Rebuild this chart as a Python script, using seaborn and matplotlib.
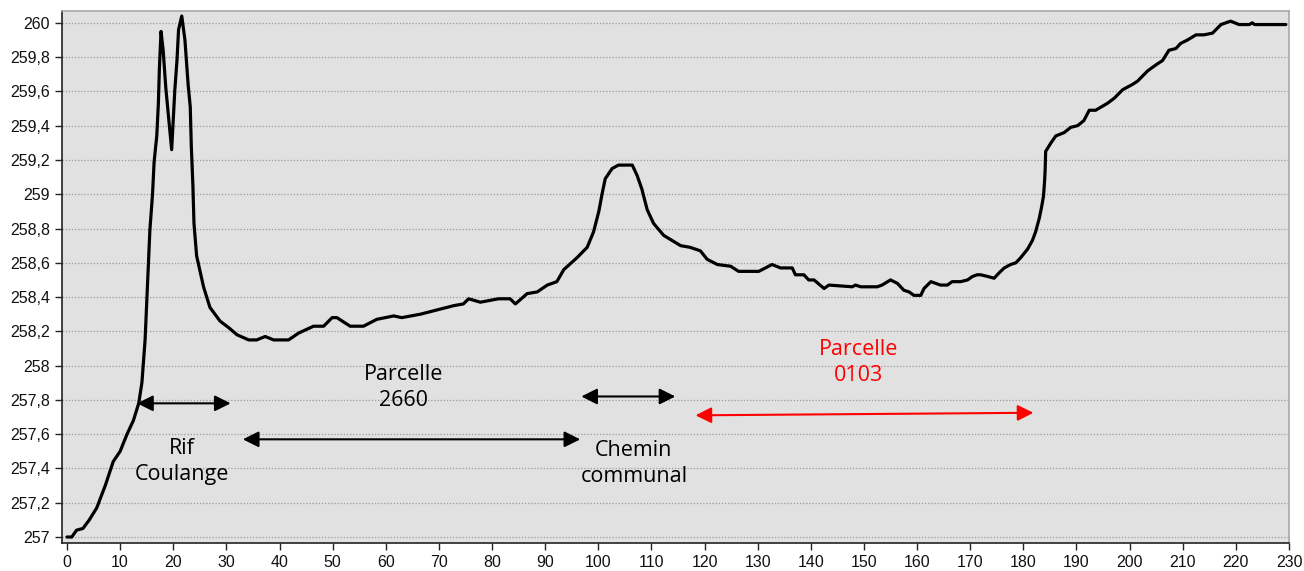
import numpy as np
import pandas as pd
import seaborn as sns
import matplotlib.pyplot as plt
from matplotlib.ticker import FuncFormatter, MultipleLocator

# elevation profile (distance in m, altitude in m)
distance = [0, 0.9, 1.8, 3.0, 4.2, 5.6, 7.2, 8.7, 10.0, 11.3, 12.5, 13.5, 14.1, 14.7, 15.0,
            15.3, 15.6, 16.1, 16.4, 16.9, 17.2, 17.4, 17.7, 18.1, 18.6, 19.0, 19.4, 19.7, 20.0,
            20.3, 20.7, 21.0, 21.6, 22.2, 22.8, 23.2, 23.4, 23.7, 23.9, 24.4, 25.7, 26.9, 28.8,
            30.5, 32.0, 34.2, 35.7, 37.3, 38.9, 41.7, 43.6, 46.4, 48.3, 49.9, 50.8, 53.3, 55.8,
            58.3, 61.5, 63.0, 66.5, 70.3, 72.8, 74.6, 75.6, 77.8, 81.2, 83.4, 84.4, 86.6, 88.5,
            90.4, 92.2, 93.5, 96.0, 97.9, 99.1, 100.1, 100.7, 101.3, 102.6, 103.8, 106.4, 107.3,
            108.2, 109.2, 110.4, 112.3, 115.5, 117.3, 119.2, 120.5, 122.4, 124.9, 126.4, 130.2,
            132.7, 134.3, 136.5, 137.1, 138.7, 139.6, 140.6, 142.5, 143.4, 147.8, 148.4, 149.4,
            152.5, 153.4, 155.0, 156.3, 157.5, 158.5, 159.4, 160.7, 161.3, 162.6, 163.5, 164.4,
            165.7, 166.6, 168.2, 169.5, 170.4, 171.3, 172.0, 173.3, 174.5, 175.4, 176.4, 177.6,
            178.6, 179.5, 180.8, 181.7, 182.3, 183.0, 183.4, 183.8, 184.0, 184.1, 184.2, 185.2,
            186.1, 187.7, 188.9, 190.2, 191.4, 192.4, 193.6, 195.8, 197.1, 198.7, 200.5, 201.5,
            203.4, 205.2, 206.2, 207.4, 208.7, 209.6, 210.9, 212.5, 214.0, 215.6, 217.2, 219.0,
            220.6, 222.5, 223.1, 223.5, 229.4]
altitude = [257.0, 257.0, 257.04, 257.05, 257.1, 257.17, 257.3, 257.44, 257.5, 257.6, 257.68,
            257.78, 257.9, 258.15, 258.36, 258.57, 258.79, 259.0, 259.19, 259.34, 259.53,
            259.74, 259.95, 259.84, 259.62, 259.49, 259.36, 259.26, 259.43, 259.61, 259.78,
            259.96, 260.04, 259.9, 259.64, 259.51, 259.28, 259.05, 258.83, 258.64, 258.46,
            258.34, 258.26, 258.22, 258.18, 258.15, 258.15, 258.17, 258.15, 258.15, 258.19,
            258.23, 258.23, 258.28, 258.28, 258.23, 258.23, 258.27, 258.29, 258.28, 258.30,
            258.33, 258.35, 258.36, 258.39, 258.37, 258.39, 258.39, 258.36, 258.42, 258.43,
            258.47, 258.49, 258.56, 258.63, 258.69, 258.78, 258.9, 259.0, 259.09, 259.15,
            259.17, 259.17, 259.11, 259.03, 258.91, 258.83, 258.76, 258.70, 258.69, 258.67,
            258.62, 258.59, 258.58, 258.55, 258.55, 258.59, 258.57, 258.57, 258.53, 258.53,
            258.50, 258.50, 258.45, 258.47, 258.46, 258.47, 258.46, 258.46, 258.47, 258.5,
            258.48, 258.44, 258.43, 258.41, 258.41, 258.45, 258.49, 258.48, 258.47, 258.47,
            258.49, 258.49, 258.50, 258.52, 258.53, 258.53, 258.52, 258.51, 258.54, 258.57,
            258.59, 258.60, 258.63, 258.68, 258.73, 258.78, 258.86, 258.92, 258.99, 259.08,
            259.14, 259.25, 259.3, 259.34, 259.36, 259.39, 259.40, 259.43, 259.49, 259.49,
            259.53, 259.56, 259.61, 259.64, 259.66, 259.72, 259.76, 259.78, 259.84, 259.85,
            259.88, 259.90, 259.93, 259.93, 259.94, 259.99, 260.01, 259.99, 259.99, 260.0,
            259.99, 259.99]

# annotations: label, text position, arrow start/end, colour
labels = ["Rif\nCoulange", "Parcelle\n2660", "Chemin\ncommunal", "Parcelle\n0103"]
label_pos = [(21.7, 257.44), (63.3, 257.87), (106.7, 257.43), (149.0, 258.02)]
arrow_start = [(13.2, 257.78), (33.1, 257.57), (96.8, 257.82), (118.3, 257.71)]
arrow_end = [(30.8, 257.78), (96.6, 257.57), (114.5, 257.82), (181.9, 257.725)]
label_colors = ["black", "black", "black", "red"]

df = pd.DataFrame({"distance": distance, "altitude": altitude})

sns.set_style("white", {"axes.facecolor": "#e1e1e1"})
plt.rcParams["font.family"] = ["Liberation Sans", "DejaVu Sans"]

fig = plt.figure(figsize=(13.04, 5.71), dpi=100)
ax = fig.add_axes([0.0475, 0.049, 0.941, 0.932])

sns.lineplot(data=df, x="distance", y="altitude", color="black", linewidth=2.3,
             estimator=None, sort=False, ax=ax)

ax.set_xlim(-0.95, 230)
ax.set_ylim(256.965, 260.07)
ax.xaxis.set_major_locator(MultipleLocator(10))
ax.yaxis.set_major_locator(MultipleLocator(0.2))
ax.yaxis.set_major_formatter(FuncFormatter(lambda v, p: f"{v:.1f}".rstrip("0").rstrip(".").replace(".", ",")))
ax.set_xlabel("")
ax.set_ylabel("")
ax.grid(axis="y", color="#9a9a9a", linestyle=(0, (1, 1.5)), linewidth=0.9)
ax.tick_params(axis="both", direction="out", length=5, width=1, colors="#222222",
               labelsize=11.5, labelcolor="#111111", bottom=True, left=True)
for side in ["left", "bottom"]:
    ax.spines[side].set_color("#222222")
    ax.spines[side].set_linewidth(1.2)
for side in ["top", "right"]:
    ax.spines[side].set_color("#a8a8a8")
    ax.spines[side].set_linewidth(1.2)

for lab, pos, a0, a1, col in zip(labels, label_pos, arrow_start, arrow_end, label_colors):
    ax.annotate("", xy=a1, xytext=a0,
                arrowprops=dict(arrowstyle="<|-|>", color=col, lw=1.5,
                                mutation_scale=24, shrinkA=0, shrinkB=0))
    ax.text(pos[0], pos[1], lab, color=col, ha="center", va="center",
            fontsize=15.5, family=["Open Sans", "DejaVu Sans"], linespacing=1.32)

plt.savefig("out.png", dpi=100)
